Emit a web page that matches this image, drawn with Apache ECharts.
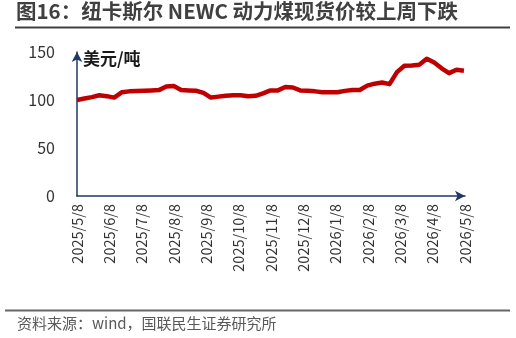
<!DOCTYPE html>
<html>
<head>
<meta charset="utf-8">
<script src="https://cdn.jsdelivr.net/npm/echarts@6/dist/echarts.min.js"></script>
<style>
  html, body { margin: 0; padding: 0; background: #fff; }
  #chart { width: 516px; height: 338px; }
</style>
</head>
<body>
<div id="chart"></div>
<script>
// 周度日期
var weekDates = [
  "2025-05-08", "2025-05-15", "2025-05-22", "2025-05-29",
  "2025-06-05", "2025-06-12", "2025-06-19", "2025-06-26",
  "2025-07-03", "2025-07-10", "2025-07-17", "2025-07-24", "2025-07-31",
  "2025-08-07", "2025-08-14", "2025-08-21", "2025-08-28",
  "2025-09-04", "2025-09-11", "2025-09-18", "2025-09-25",
  "2025-10-02", "2025-10-09", "2025-10-16", "2025-10-23", "2025-10-30",
  "2025-11-06", "2025-11-13", "2025-11-20", "2025-11-27",
  "2025-12-04", "2025-12-11", "2025-12-18", "2025-12-25",
  "2026-01-01", "2026-01-08", "2026-01-15", "2026-01-22", "2026-01-29",
  "2026-02-05", "2026-02-12", "2026-02-19", "2026-02-26",
  "2026-03-05", "2026-03-12", "2026-03-19", "2026-03-26",
  "2026-04-02", "2026-04-09", "2026-04-16", "2026-04-23", "2026-04-30",
  "2026-05-07"
];

// NEWC 动力煤现货价（美元/吨）
var newcPrice = [
  100, 101.5, 103, 105, 104, 102.5, 108, 109, 109.3, 109.6,
  110, 110.3, 114, 114.6, 110.5, 110, 109.6, 107.5, 102.5, 103.5,
  104.5, 105, 105, 104, 104.3, 107, 110, 110, 113.5, 113,
  110, 109.7, 109, 108, 108, 108, 109.5, 110.4, 110.4, 115,
  117, 118.2, 116.5, 129, 135.7, 136, 136.8, 143, 139, 133,
  128, 131.5, 130.5
];

// 横轴刻度标签
var monthLabels = [
  "2025/5/8", "2025/6/8", "2025/7/8", "2025/8/8", "2025/9/8",
  "2025/10/8", "2025/11/8", "2025/12/8", "2026/1/8", "2026/2/8",
  "2026/3/8", "2026/4/8", "2026/5/8"
];

var yTicks = [0, 50, 100, 150];

var font = "'Noto Sans CJK SC', 'Noto Sans', sans-serif";
var axisColor = "#1f3864";

var seriesData = weekDates.map(function (d, i) {
  return [d, newcPrice[i]];
});

var chart = echarts.init(document.getElementById("chart"));
chart.setOption({
  animation: false,
  backgroundColor: "#fff",
  textStyle: { fontFamily: font },
  title: {
    text: "图16：纽卡斯尔 NEWC 动力煤现货价较上周下跌",
    left: 16,
    top: 1,
    padding: 0,
    textStyle: { fontFamily: font, fontSize: 20.5, fontWeight: "bold", color: "#404040" }
  },
  graphic: [
    {
      type: "line",
      shape: { x1: 15, y1: 27.5, x2: 510, y2: 27.5 },
      style: { stroke: "#404040", lineWidth: 2 }
    },
    {
      type: "line",
      shape: { x1: 5, y1: 310.5, x2: 510, y2: 310.5 },
      style: { stroke: "#666", lineWidth: 2 }
    },
    {
      type: "text",
      left: 17,
      top: 316,
      style: {
        text: "资料来源：wind，国联民生证券研究所",
        font: "15px " + font,
        fill: "#595959"
      }
    },
    {
      type: "text",
      left: 83,
      top: 50,
      style: {
        text: "美元/吨",
        font: "bold 17px " + font,
        fill: "#1a1a1a"
      }
    }
  ],
  grid: { left: 77, right: 51, top: 52, bottom: 142, containLabel: false },
  xAxis: [
    {
      // 数据用的时间轴（隐藏）
      type: "time",
      min: "2025-05-08",
      max: "2026-05-08",
      show: false
    },
    {
      type: "category",
      position: "bottom",
      data: monthLabels,
      boundaryGap: false,
      axisLine: {
        show: true,
        symbol: ["none", "arrow"],
        symbolSize: [8, 10],
        lineStyle: { color: axisColor, width: 1.5 }
      },
      axisTick: { show: false },
      splitLine: { show: false },
      axisLabel: {
        rotate: 90,
        interval: 0,
        margin: 8,
        fontSize: 14.5,
        color: "#333",
        fontFamily: font
      }
    }
  ],
  yAxis: {
    type: "value",
    min: yTicks[0],
    max: yTicks[yTicks.length - 1],
    interval: 50,
    axisLine: {
      show: true,
      symbol: ["none", "arrow"],
      symbolSize: [8, 10],
      lineStyle: { color: axisColor, width: 1.5 }
    },
    axisTick: { show: false },
    splitLine: { show: false },
    axisLabel: { margin: 22, fontSize: 16, color: "#333", fontFamily: font }
  },
  series: [
    {
      name: "NEWC",
      type: "line",
      xAxisIndex: 0,
      data: seriesData,
      symbol: "none",
      lineStyle: { color: "#c00000", width: 4.5, join: "round" }
    }
  ]
});
</script>
</body>
</html>
